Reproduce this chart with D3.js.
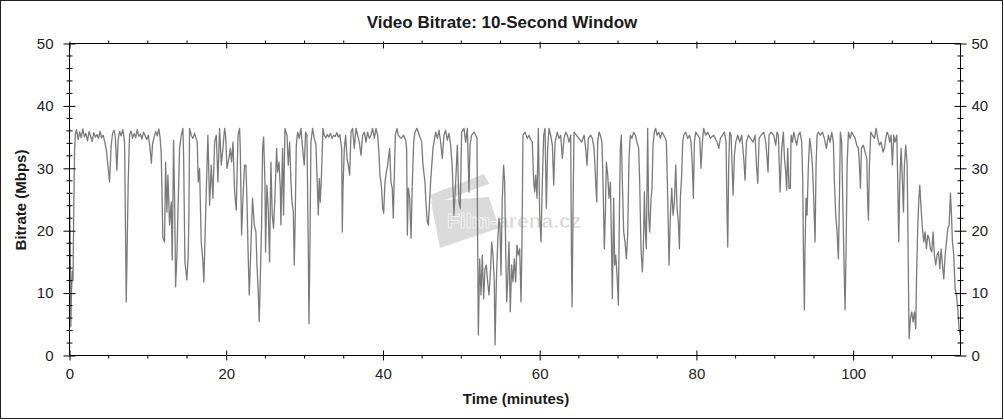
<!DOCTYPE html>
<html>
<head>
<meta charset="utf-8">
<script src="https://cdn.jsdelivr.net/npm/d3@7"></script>
<style>
html,body{margin:0;padding:0;background:#fff;}
svg{display:block;font-family:"Liberation Sans",Arial,sans-serif;}
</style>
</head>
<body>
<svg id="chart" width="1004" height="420"></svg>
<script>
const title = "Video Bitrate: 10-Second Window";
const xLabel = "Time (minutes)";
const yLabel = "Bitrate (Mbps)";
const xTicks = [0, 20, 40, 60, 80, 100];
const yTicks = [0, 10, 20, 30, 40, 50];
const xMax = 113.7;
const yMax = 50;

const minutes = [
0.00,0.08,0.17,0.25,0.35,0.45,0.55,0.65,0.75,0.9,1.1,1.3,1.5,1.7,1.9,2.1,2.3,2.5,2.7,2.9,3.1,3.3,3.5,3.7,3.9,4.1,4.3,4.5,4.7,4.9,
5.11,5.32,5.5,5.7,5.85,6.05,6.2,6.4,6.6,6.8,6.95,7.03,7.15,7.24,7.37,7.49,7.66,7.85,8.05,8.25,8.45,8.65,8.85,9.05,9.25,9.45,9.65,9.85,10.05,10.25,
10.45,10.6,10.8,11.0,11.2,11.4,11.55,11.7,11.92,12.13,12.26,12.43,12.56,12.77,12.98,13.11,13.28,13.41,13.54,13.71,13.83,14.05,14.26,14.47,14.56,14.73,14.98,15.15,15.24,15.32,
15.54,15.75,15.96,16.17,16.3,16.43,16.6,16.81,17.03,17.15,17.37,17.66,17.88,18.09,18.3,18.52,18.73,18.94,19.15,19.37,19.58,19.79,19.92,20.09,20.35,20.52,20.69,20.86,21.07,21.28,
21.5,21.71,21.79,21.96,22.13,22.34,22.51,22.64,22.81,22.94,23.07,23.24,23.36,23.58,23.79,23.92,24.09,24.21,24.34,24.51,24.64,24.77,24.94,25.02,25.19,25.36,25.53,25.7,25.87,26.04,
26.21,26.43,26.55,26.73,26.9,26.98,27.19,27.32,27.49,27.75,27.92,28.09,28.26,28.39,28.56,28.68,28.81,28.94,29.11,29.32,29.53,29.75,29.96,30.13,30.3,30.47,30.56,30.68,30.81,31.02,
31.24,31.45,31.58,31.75,31.87,32.0,32.17,32.34,32.51,32.7,32.9,33.1,33.3,33.5,33.7,33.9,34.1,34.3,34.5,34.73,34.81,34.9,35.07,35.24,35.41,35.58,35.75,35.92,36.13,36.34,
36.56,36.77,36.98,37.19,37.41,37.62,37.83,38.04,38.26,38.47,38.68,38.9,39.11,39.32,39.45,39.62,39.83,39.96,40.09,40.26,40.43,40.6,40.85,41.02,41.19,41.32,41.45,41.58,41.79,41.96,
42.3,42.64,42.9,43.02,43.11,43.24,43.41,43.58,43.75,43.92,44.09,44.34,44.64,44.94,45.11,45.36,45.45,45.66,45.79,46.08,46.38,46.72,46.94,47.15,47.36,47.57,47.79,48.0,48.21,48.42,
48.64,48.85,49.06,49.28,49.49,49.7,49.87,50.04,50.34,50.55,50.77,50.98,51.11,51.32,51.62,51.83,52.0,52.08,52.17,52.34,52.51,52.68,52.85,53.02,53.19,53.36,53.53,53.74,53.87,54.04,
54.21,54.3,54.47,54.64,54.81,54.94,55.06,55.23,55.4,55.53,55.66,55.79,55.91,56.08,56.25,56.42,56.59,56.76,56.93,57.1,57.27,57.45,57.62,57.74,57.87,58.13,58.42,58.64,58.89,59.06,
59.23,59.36,59.49,59.66,59.83,60.0,60.17,60.34,60.51,60.68,60.85,61.02,61.19,61.4,61.62,61.79,61.96,62.25,62.47,62.68,62.89,63.11,63.32,63.53,63.74,63.96,64.04,64.13,64.25,64.38,
64.68,65.02,65.36,65.66,65.87,66.04,66.21,66.51,66.72,66.94,67.15,67.28,67.4,67.57,67.74,67.95,68.08,68.25,68.38,68.51,68.68,68.85,69.02,69.14,69.27,69.44,69.57,69.7,69.87,70.04,
70.17,70.29,70.42,70.55,70.72,70.89,71.06,71.23,71.4,71.57,71.78,71.99,72.21,72.42,72.63,72.76,72.93,73.1,73.23,73.36,73.49,73.61,73.78,73.91,74.04,74.21,74.34,74.46,74.63,74.8,
74.97,75.19,75.4,75.61,75.83,76.04,76.17,76.34,76.51,76.68,76.85,77.02,77.19,77.36,77.53,77.7,77.83,77.95,78.12,78.25,78.38,78.63,78.89,79.14,79.31,79.48,79.61,79.74,79.91,80.17,
80.42,80.59,80.76,80.93,81.19,81.44,81.78,82.21,82.63,82.85,83.06,83.31,83.57,83.78,83.91,84.0,84.12,84.25,84.42,84.55,84.68,84.85,85.02,85.27,85.53,85.78,86.04,86.21,86.38,86.63,
86.89,87.23,87.49,87.66,87.83,88.0,88.25,88.59,88.85,89.02,89.14,89.27,89.53,89.87,90.12,90.29,90.46,90.67,90.89,91.1,91.23,91.4,91.52,91.65,91.82,91.99,92.08,92.25,92.42,92.59,
92.8,93.01,93.23,93.44,93.57,93.65,93.78,93.86,93.99,94.12,94.29,94.46,94.63,94.8,94.97,95.14,95.27,95.4,95.57,95.82,96.08,96.33,96.59,96.84,97.06,97.27,97.48,97.61,97.78,97.95,
98.12,98.25,98.37,98.54,98.67,98.84,98.97,99.1,99.23,99.4,99.61,99.82,100.03,100.25,100.46,100.67,100.8,100.93,101.06,101.31,101.52,101.74,101.86,101.95,102.08,102.25,102.46,102.72,102.93,103.14,
103.35,103.57,103.82,103.99,104.16,104.33,104.5,104.67,104.84,105.01,105.18,105.35,105.57,105.69,105.82,105.95,106.12,106.29,106.42,106.54,106.71,106.89,106.97,107.06,107.14,107.31,107.48,107.65,107.82,107.99,
108.08,108.25,108.37,108.5,108.67,108.84,109.01,109.18,109.35,109.52,109.69,109.86,110.03,110.2,110.37,110.54,110.71,110.89,111.06,111.23,111.4,111.57,111.74,111.91,112.08,112.25,112.42,112.55,112.67,112.84,
113.01,113.18,113.35,113.52,113.65
];

const mbps = [
25.5,20,4.6,10,13.5,12,24,33,35.5,36.2,34.6,35.8,34.9,36.3,35.0,35.6,34.4,35.9,35.1,34.3,35.7,35.0,35.4,34.8,35.9,34.9,35.3,34.2,33.0,30.5,
27.8,33.7,35.6,36.1,35.0,29.7,34.5,35.9,35.2,36.2,35.0,34,19.8,8.6,18.2,27.8,35.3,36.0,34.8,35.6,34.9,36.2,35.1,35.5,34.7,35.8,35.2,34.6,35.3,33.5,
30.8,34.0,35.0,35.9,35.2,36.3,35.0,32.5,18.8,18.2,31.0,23.0,28.9,20.9,24.6,15.3,34.5,25.2,11.0,16.1,22.5,33.2,35.3,36.4,32.1,15.0,12.1,16.1,22.5,36.4,
35.3,34.8,35.6,34.8,34.2,27.8,30.0,18.2,15.0,11.8,22.5,35.3,24.1,30.5,25.2,34.2,35.3,27.8,36.4,30.5,33.2,36.4,35.3,30.0,31.6,33.2,31.0,34.2,26.2,23.3,
35.3,36.4,33.2,19.3,25.2,30.5,30.5,25.2,15.5,9.7,14.5,20.9,25.2,20.9,19.8,14.5,10.2,5.4,11.8,20.9,33.2,35.0,27.8,16.6,27.3,23.6,15.0,31.0,22.5,20.4,
25.2,33.2,29.4,31.0,26.8,20.9,33.2,22.5,36.4,35.3,30.5,34.2,27.8,24.6,23.0,14.5,22.5,33.7,35.8,34.8,36.4,33.2,30.5,35.8,35.3,17.1,5.1,17.1,34.2,36.4,
34.8,33.7,28.9,22.5,28.4,24.6,29.4,36.4,35.3,34.9,35.4,35.0,35.6,34.8,35.3,35.1,35.7,35.0,35.4,33.2,19.8,26.8,33.2,35.3,31.6,30.5,28.9,35.8,36.4,33.2,
36.4,35.3,34.2,32.1,35.3,35.8,34.2,35.8,34.8,35.3,36.4,34.8,36.4,35.3,33.2,28.9,26.8,23.6,22.8,27.8,29.4,30.5,33.2,27.8,26.8,22.0,28.9,35.3,36.4,35.3,
34.8,35.3,34.5,33.2,19.3,26.8,25.2,18.8,27.8,34.2,35.8,36.4,35.3,34.2,30.5,27.8,25.2,21.4,20.9,27.8,33.2,35.8,34.8,36.1,34.2,31.6,35.3,36.1,34.5,35.6,
33.7,30.0,22.5,27.8,33.7,24.6,23.6,35.8,36.4,34.2,36.4,26.2,33.7,35.3,35.8,35.3,34.8,18.2,3.3,15.5,9.7,16.1,9.1,13.9,14.5,11.8,9.7,13.9,18.2,16.1,
11.8,1.7,11.8,18.2,22.0,20.4,12.9,25.2,30.5,27.8,17.1,8.6,11.8,18.2,7.0,14.5,11.8,15.5,11.8,17.7,16.1,17.1,8.6,18.2,35.3,35.8,34.8,35.3,34.5,34.2,
27.8,26.2,28.9,25.2,36.4,22.5,18.2,27.8,35.3,36.4,23.6,33.2,36.4,35.3,33.7,27.3,34.2,35.8,34.8,35.3,31.6,34.8,35.8,35.3,34.2,35.3,18.2,7.8,22.5,35.8,
35.3,34.8,34.2,35.3,33.2,30.5,34.8,35.3,34.8,33.2,27.8,24.6,34.2,35.8,35.3,34.2,27.8,17.1,22.5,31.0,28.9,25.2,27.8,19.8,9.1,25.2,14.5,16.1,12.9,8.1,
22.5,33.2,35.3,27.8,19.8,18.2,15.5,19.3,31.6,35.3,34.8,35.8,35.3,34.2,33.2,27.8,17.1,13.4,17.1,26.2,19.8,17.1,36.4,22.5,19.8,25.2,26.8,33.7,35.8,36.4,
35.3,35.8,34.8,35.8,35.3,34.8,34.2,25.2,14.5,22.5,26.8,22.5,24.6,30.5,23.6,21.4,17.1,25.2,28.9,34.2,35.3,35.8,34.8,35.3,34.2,30.5,25.2,34.2,35.8,35.3,
34.8,30.0,34.2,36.4,35.3,35.8,34.8,35.3,34.2,33.2,34.8,35.3,35.8,34.2,22.5,17.4,30.5,35.8,35.3,30.5,25.7,32.1,34.2,35.3,34.2,35.3,31.6,28.1,34.2,35.3,
34.8,34.2,35.3,30.5,27.6,34.8,35.3,35.8,34.2,31.6,29.4,35.3,35.8,35.3,33.7,35.8,35.3,26.2,33.2,35.8,31.6,29.4,26.5,33.2,26.8,26.8,35.3,34.2,35.8,34.8,
33.7,35.3,35.8,34.2,27.8,17.1,7.3,17.1,25.2,22.5,30.5,34.8,33.2,30.5,25.2,18.2,30.5,35.3,35.8,35.3,35.8,34.8,33.2,35.3,34.2,35.8,34.2,27.8,22.5,19.8,
15.5,25.2,35.8,34.2,25.2,14.5,7.3,17.1,30.5,35.8,34.8,35.8,35.3,34.8,33.7,33.2,30.5,26.8,33.2,33.7,32.6,31.6,24.6,21.7,30.5,35.8,35.3,34.8,36.4,34.8,
33.7,34.2,32.6,33.2,34.8,35.8,35.3,34.2,35.3,30.5,35.3,34.2,35.3,27.8,18.2,27.8,33.2,27.8,23.0,30.5,33.7,30.5,22.5,11.8,2.7,5.9,7.0,5.4,7.0,4.3,
11.8,20.9,24.6,27.3,23.6,20.4,18.2,19.8,17.1,19.3,18.8,17.1,16.6,19.8,16.1,14.5,16.1,16.6,13.9,17.1,14.5,12.3,16.1,18.2,20.4,20.9,26.0,22.5,18.2,16.1,
10.7,9.7,7.5,4.3,3.3
];

const svg = d3.select("#chart");

// outer frame
svg.append("rect").attr("x", 0.5).attr("y", 0.5).attr("width", 1002).attr("height", 418)
  .attr("fill", "#fff").attr("stroke", "#222").attr("stroke-width", 1);

const x = d3.scaleLinear().domain([0, xMax]).range([69.5, 960.5]);
const y = d3.scaleLinear().domain([0, yMax]).range([355.5, 43.5]);

// watermark
const wm = svg.append("g").attr("fill", "#dadada");
wm.append("polygon").attr("points", "431,201 489,197 499,228 440,248");
wm.append("polygon").attr("points", "430,195 484,174 489,184 434,204");
wm.append("text").attr("x", 447).attr("y", 228).attr("font-size", 21).attr("font-weight", "bold")
  .attr("fill", "#d4d4d4").attr("stroke", "#fff").attr("stroke-width", 0.6).text("Film-arena.cz");

// data line
const data = d3.zip(minutes, mbps);
svg.append("path").datum(data)
  .attr("fill", "none").attr("stroke", "#7a7a7a").attr("stroke-width", 1.3)
  .attr("stroke-linejoin", "round")
  .attr("d", d3.line().x(d => x(d[0])).y(d => y(d[1])));

const axisColor = "#000";
const gL = svg.append("g").attr("transform", "translate(69.5,0)")
  .call(d3.axisLeft(y).tickValues(yTicks).tickSize(6).tickPadding(10));
const gR = svg.append("g").attr("transform", "translate(960.5,0)")
  .call(d3.axisRight(y).tickValues(yTicks).tickSize(6).tickPadding(5));
const gB = svg.append("g").attr("transform", "translate(0,355.5)")
  .call(d3.axisBottom(x).tickValues(xTicks).tickSize(5).tickPadding(8));
const gT = svg.append("g").attr("transform", "translate(0,43.5)")
  .call(d3.axisTop(x).tickValues(xTicks).tickSize(0).tickFormat(""));

[gL, gR, gB, gT].forEach(g => {
  g.select(".domain").attr("stroke", axisColor);
  g.selectAll("text").attr("font-size", 15).attr("fill", "#222")
    .attr("font-family", "'Liberation Sans', Arial, sans-serif");
});
gL.select(".domain").attr("d", `M0,${y(yMax)}V${y(0)}`);
gR.select(".domain").attr("d", `M0,${y(yMax)}V${y(0)}`);
gB.select(".domain").attr("d", `M${x(0)},0H${x(xMax)}`);
gT.select(".domain").attr("d", `M${x(0)},0H${x(xMax)}`);

gL.selectAll(".tick line").attr("x1", 6).attr("x2", -6).attr("stroke", axisColor);
gR.selectAll(".tick line").attr("x1", -6).attr("x2", 6).attr("stroke", axisColor);
gB.selectAll(".tick line").attr("y1", -5).attr("y2", 5).attr("stroke", axisColor);
gT.selectAll(".tick line").attr("y1", -2).attr("y2", 5).attr("stroke", axisColor);

// minor ticks
const yMinor = d3.range(0, yMax + 0.001, 2).filter(v => v % 10 !== 0);
const xMinor = d3.range(0, xMax, 5).filter(v => v % 20 !== 0);
const minor = svg.append("g").attr("stroke", axisColor).attr("stroke-width", 1);
yMinor.forEach(v => {
  minor.append("line").attr("x1", 69.5 - 3).attr("x2", 69.5 + 3).attr("y1", y(v)).attr("y2", y(v));
  minor.append("line").attr("x1", 960.5 - 3).attr("x2", 960.5 + 3).attr("y1", y(v)).attr("y2", y(v));
});
xMinor.forEach(v => {
  minor.append("line").attr("x1", x(v)).attr("x2", x(v)).attr("y1", 355.5).attr("y2", 358.5);
  minor.append("line").attr("x1", x(v)).attr("x2", x(v)).attr("y1", 43.5).attr("y2", 40.5);
});

// titles
svg.append("text").attr("x", 502).attr("y", 27.5).attr("text-anchor", "middle")
  .attr("font-size", 17).attr("font-weight", "bold").attr("fill", "#1a1a1a").text(title);
svg.append("text").attr("x", 516).attr("y", 403.5).attr("text-anchor", "middle")
  .attr("font-size", 15).attr("font-weight", "bold").attr("fill", "#1a1a1a").text(xLabel);
svg.append("text").attr("transform", "translate(25.5,200) rotate(-90)").attr("text-anchor", "middle")
  .attr("font-size", 15).attr("font-weight", "bold").attr("fill", "#1a1a1a").text(yLabel);
</script>
</body>
</html>
